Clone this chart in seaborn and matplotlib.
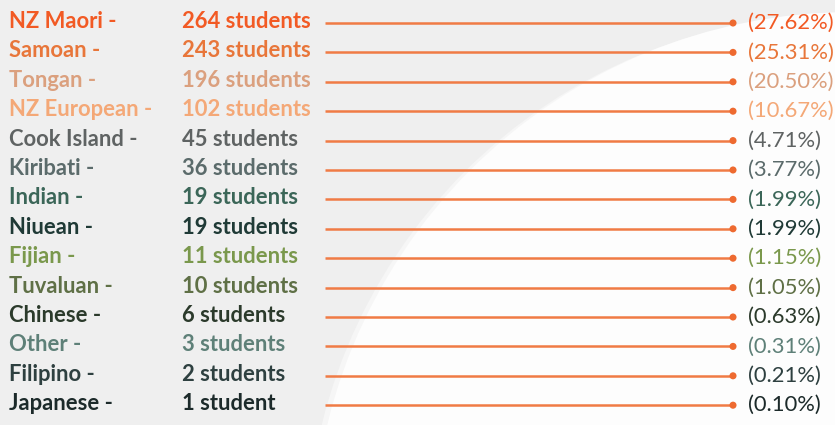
import matplotlib
matplotlib.use("Agg")
import matplotlib.pyplot as plt
import seaborn as sns
import pandas as pd
from matplotlib.patches import Ellipse

# ---- data ----
ethnicities = ["NZ Maori", "Samoan", "Tongan", "NZ European", "Cook Island", "Kiribati",
               "Indian", "Niuean", "Fijian", "Tuvaluan", "Chinese", "Other", "Filipino", "Japanese"]
students = [264, 243, 196, 102, 45, 36, 19, 19, 11, 10, 6, 3, 2, 1]
percents = [27.62, 25.31, 20.50, 10.67, 4.71, 3.77, 1.99, 1.99, 1.15, 1.05, 0.63, 0.31, 0.21, 0.10]
text_colors = ["#f25a24", "#e8763a", "#dba07e", "#f4a877", "#5f6363", "#5b6b6b",
               "#3b6658", "#1f3a36", "#7a984c", "#5f7046", "#2b3a2b", "#5e8078", "#2e4040", "#1c2a2a"]

df = pd.DataFrame({"ethnicity": ethnicities, "students": students, "percent": percents})
df["row"] = range(len(df))

# ---- style ----
sns.set_theme(style="white")
plt.rcParams["font.family"] = ["Lato", "DejaVu Sans"]

W, H = 835, 425
fig = plt.figure(figsize=(W / 100, H / 100), dpi=100)
fig.patch.set_facecolor("#efefef")
ax = fig.add_axes([0, 0, 1, 1])
ax.set_facecolor("#efefef")

# layout: row i centred at y0 + step*i pixels
y0, step = 21.5, 29.4
ax.set_xlim(0, W)
ax.set_ylim((H - y0) / step, -y0 / step)  # inverted, in row units
ax.axis("off")

# decorative white disc in background
cx, cy, R = 852, 552, 540
ax.add_patch(Ellipse((cx - 6, (cy + 2 - y0) / step), 2 * R, 2 * R / step,
                     facecolor="#f6f6f6", edgecolor="none", zorder=0))
ax.add_patch(Ellipse((cx, (cy - y0) / step), 2 * R, 2 * R / step,
                     facecolor="#fdfdfd", edgecolor="none", zorder=0))

line_x0, line_x1 = 325, 733
line_y = df["row"] + 1.5 / step

ax.hlines(line_y, line_x0, line_x1, color="#f07b45", lw=1.8, zorder=2)
sns.scatterplot(x=[line_x1] * len(df), y=line_y, ax=ax, color="#ee6a30",
                s=26, edgecolor="none", zorder=3, legend=False)

fs = 15.8
for i, r in df.iterrows():
    c = text_colors[i]
    ax.text(9, r["row"], f"{r['ethnicity']} -", color=c, fontsize=fs, fontweight="bold",
            va="center", ha="left", zorder=4)
    unit = "student" if r["students"] == 1 else "students"
    ax.text(182, r["row"], f"{r['students']} {unit}", color=c, fontsize=fs, fontweight="bold",
            va="center", ha="left", zorder=4)
    ax.text(748, line_y[i], f"({r['percent']:.2f}%)", color=c, fontsize=fs,
            fontweight="normal", va="center", ha="left", zorder=4)

fig.savefig("out.png", dpi=100, facecolor=fig.get_facecolor())
